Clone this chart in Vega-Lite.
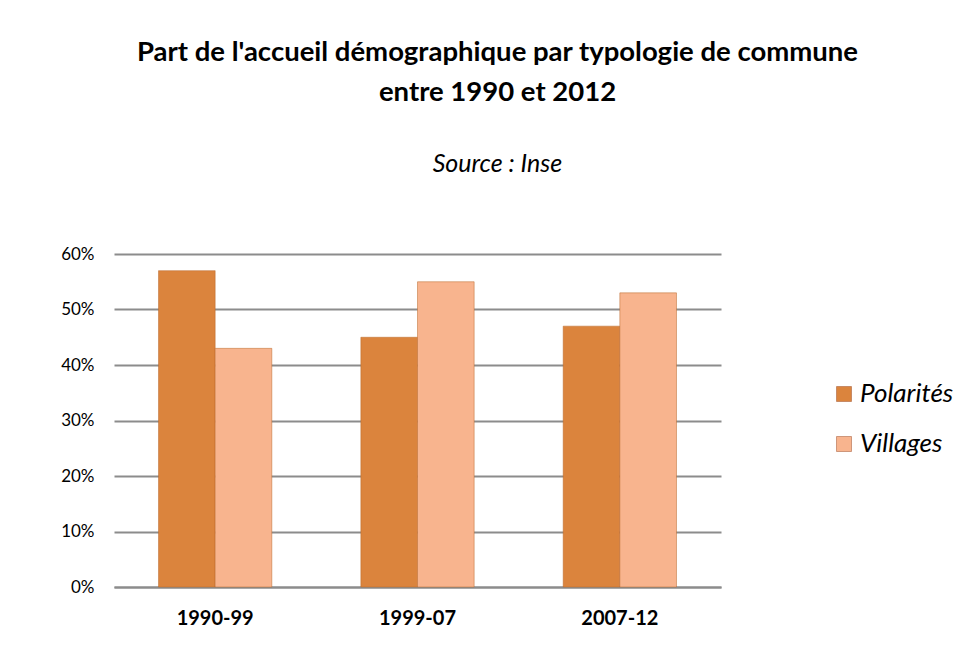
{
  "$schema": "https://vega.github.io/schema/vega-lite/v6.json",
  "width": 607,
  "height": 333,
  "autosize": {"type": "none"},
  "padding": {"left": 114, "top": 254, "right": 243, "bottom": 61},
  "background": "white",
  "title": {
    "text": ["Part de l'accueil démographique par typologie de commune", "entre 1990 et 2012"],
    "subtitle": "Source : Inse",
    "anchor": "middle",
    "frame": "group",
    "dx": 80,
    "offset": 68,
    "font": "Lato",
    "fontSize": 27.5,
    "fontWeight": "bold",
    "lineHeight": 40,
    "color": "#000000",
    "subtitleFont": "Lato",
    "subtitleFontSize": 25,
    "subtitleFontStyle": "italic",
    "subtitleColor": "#000000",
    "subtitlePadding": 46
  },
  "data": {
    "values": [
      {"periode": "1990-99", "type": "Polarités", "part": 0.57},
      {"periode": "1990-99", "type": "Villages", "part": 0.43},
      {"periode": "1999-07", "type": "Polarités", "part": 0.45},
      {"periode": "1999-07", "type": "Villages", "part": 0.55},
      {"periode": "2007-12", "type": "Polarités", "part": 0.47},
      {"periode": "2007-12", "type": "Villages", "part": 0.53}
    ]
  },
  "mark": {"type": "bar", "stroke": "#b9692a", "strokeWidth": 0.5},
  "encoding": {
    "x": {
      "field": "periode",
      "type": "nominal",
      "sort": null,
      "scale": {"paddingInner": 0.44, "paddingOuter": 0.22},
      "axis": {
        "title": null,
        "labelAngle": 0,
        "labelFont": "Lato",
        "labelFontSize": 20,
        "labelFontWeight": "bold",
        "labelColor": "#000000",
        "labelPadding": 21,
        "ticks": false,
        "domain": true,
        "domainColor": "#8c8c8c",
        "domainWidth": 2
      }
    },
    "xOffset": {"field": "type", "type": "nominal"},
    "y": {
      "field": "part",
      "type": "quantitative",
      "scale": {"domain": [0, 0.6]},
      "axis": {
        "title": null,
        "format": ".0%",
        "values": [0, 0.1, 0.2, 0.3, 0.4, 0.5, 0.6],
        "labelFont": "Lato",
        "labelFontSize": 17,
        "labelColor": "#000000",
        "labelPadding": 20,
        "ticks": false,
        "domain": false,
        "grid": true,
        "gridColor": "#8c8c8c",
        "gridWidth": 2
      }
    },
    "color": {
      "field": "type",
      "type": "nominal",
      "scale": {"domain": ["Polarités", "Villages"], "range": ["#db843d", "#f8b48e"]},
      "legend": {
        "title": null,
        "orient": "none",
        "legendX": 717,
        "legendY": 127,
        "padding": 0,
        "symbolType": "square",
        "symbolSize": 225,
        "symbolStrokeColor": "#a0522d",
        "symbolStrokeWidth": 0.5,
        "labelFont": "Lato",
        "labelFontSize": 26,
        "labelFontStyle": "italic",
        "labelColor": "#000000",
        "labelOffset": 3,
        "rowPadding": 24
      }
    }
  },
  "config": {"view": {"stroke": null}}
}
